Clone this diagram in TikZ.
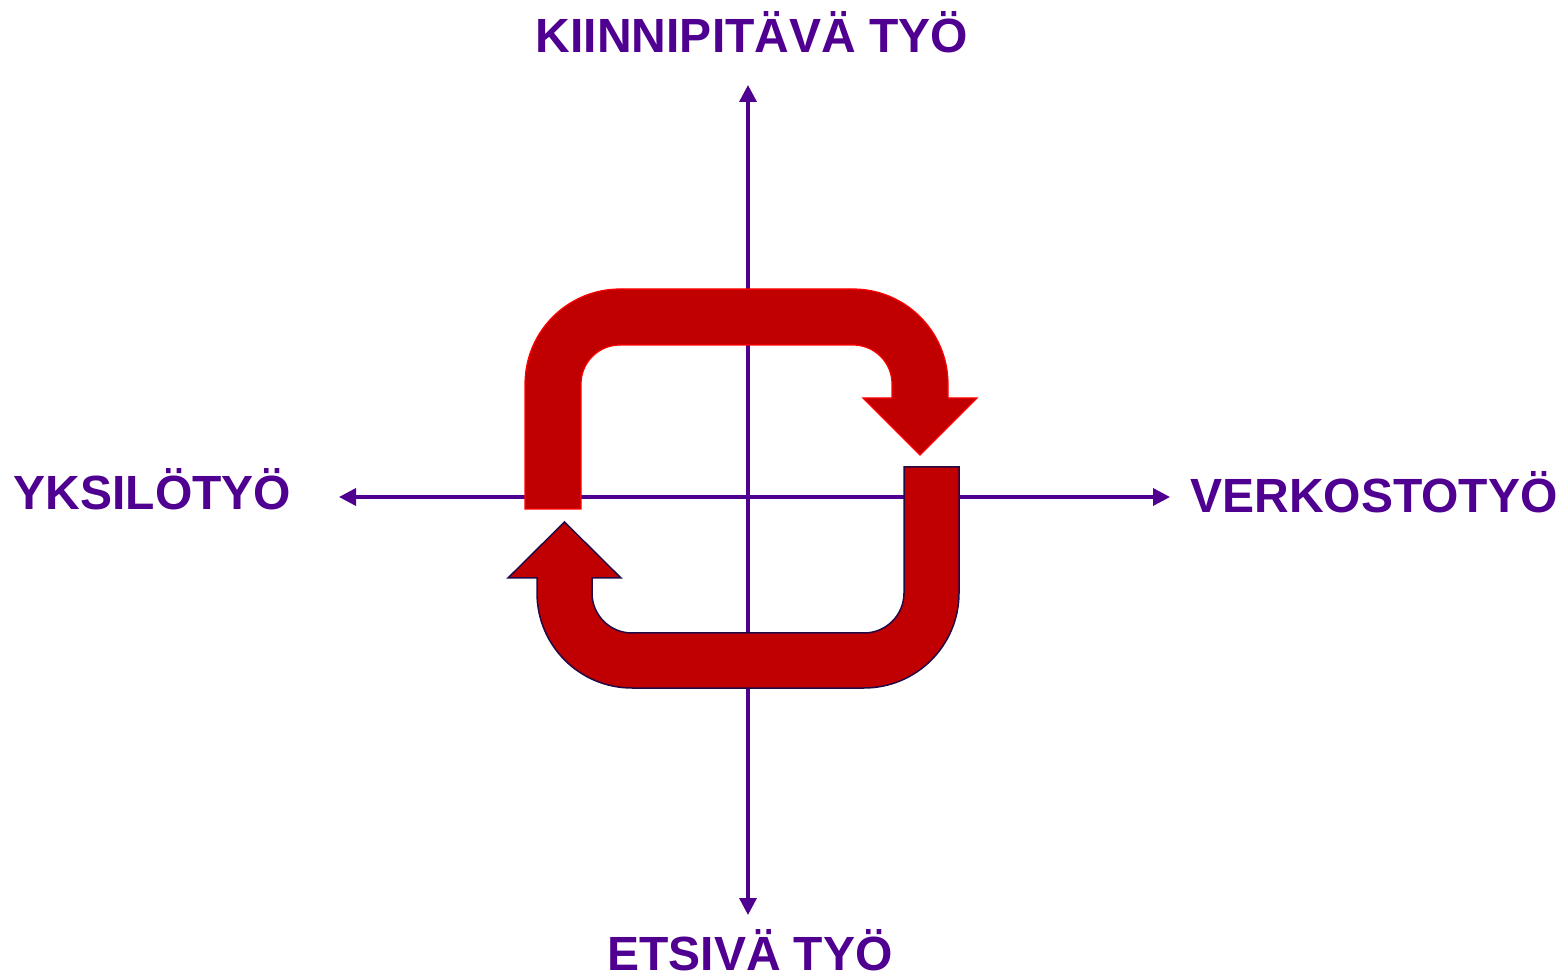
\documentclass[tikz,border=0pt]{standalone}
\usepackage{fontspec}
\setmainfont{Liberation Sans}
\usetikzlibrary{arrows.meta}
\definecolor{axispurple}{RGB}{80,0,145}
\definecolor{arrowred}{RGB}{192,0,0}
\definecolor{edgered}{RGB}{255,0,0}
\definecolor{edgedark}{RGB}{35,10,70}
\tikzset{
  label/.style={text=axispurple, font=\fontsize{48}{58}\selectfont\bfseries, anchor=base, inner sep=0pt},
  axis/.style={draw=axispurple, line width=3.5pt, {Triangle[length=17pt,width=17pt]}-{Triangle[length=17pt,width=17pt]}},
  bigarrowA/.style={fill=arrowred, draw=edgered, line width=1.2pt, line join=miter},
  bigarrowB/.style={fill=arrowred, draw=edgedark, line width=1.5pt, line join=miter}
}
\begin{document}
\begin{tikzpicture}[x=1pt,y=1pt]
\useasboundingbox (0,0) rectangle (1562,975);
% axis ends
\coordinate (axT) at (748,890);
\coordinate (axB) at (748,60);
\coordinate (axL) at (339,478);
\coordinate (axR) at (1170,478);
\draw[axis] (axB) -- (axT);
\draw[axis] (axL) -- (axR);
% labels
\node[label] (top) at (752,922) {KIINNIPITÄVÄ TYÖ};
\node[label] (left) at (152.5,465) {YKSILÖTYÖ};
\node[label] (right) at (1374,462) {VERKOSTOTYÖ};
\node[label] (bottom) at (750,5) {ETSIVÄ TYÖ};
% top bent arrow
\path[bigarrowA] (525,466) -- (525,591) arc[start angle=180,end angle=90,radius=95]
  -- (853,686) arc[start angle=90,end angle=0,radius=95]
  -- (948,577) -- (977,577) -- (920,520) -- (863,577) -- (892,577)
  -- (892,591) arc[start angle=0,end angle=90,radius=39]
  -- (620,630) arc[start angle=90,end angle=180,radius=39]
  -- (581,466) -- cycle;
% bottom bent arrow
\path[bigarrowB] (959,508) -- (959,382) arc[start angle=0,end angle=-90,radius=95]
  -- (632,287) arc[start angle=270,end angle=180,radius=95]
  -- (537,397) -- (508,397) -- (564.5,453) -- (621,397) -- (592,397)
  -- (592,382) arc[start angle=180,end angle=270,radius=40]
  -- (864,342) arc[start angle=-90,end angle=0,radius=40]
  -- (904,508) -- cycle;
\end{tikzpicture}
\end{document}
